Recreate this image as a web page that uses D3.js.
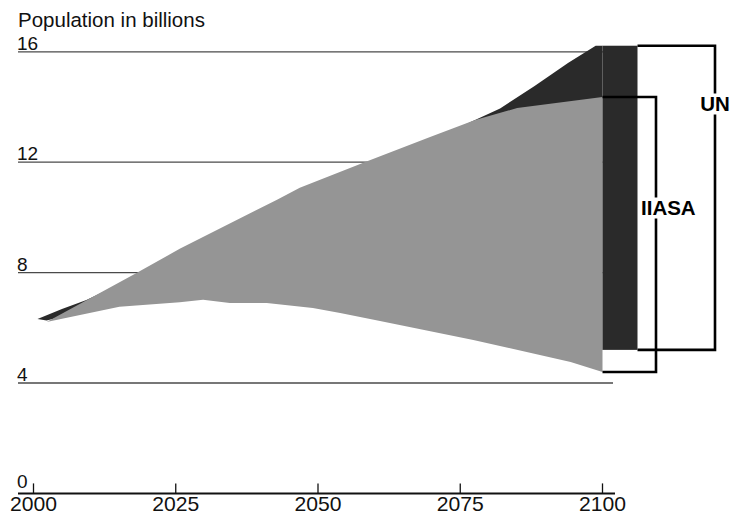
<!DOCTYPE html>
<html>
<head>
<meta charset="utf-8">
<script src="https://cdn.jsdelivr.net/npm/d3@7"></script>
<style>
  html, body { margin: 0; padding: 0; background: #fff; }
  svg { display: block; }
  text { font-family: "Liberation Sans", Arial, Helvetica, sans-serif; }
</style>
</head>
<body>
<svg id="chart" width="739" height="514"></svg>
<script>
// ---- data ----
const yTicks = [0, 4, 8, 12, 16];
const xTicks = [2000, 2025, 2050, 2075, 2100];
const yTitle = "Population in billions";

// UN projection range [year, billions]
const unUpper = [[2000.7, 6.32], [2005, 6.68], [2009.3, 7.01], [2020, 8.05], [2030, 9.2], [2040, 10.2],
  [2050, 11.2], [2060, 12.0], [2070, 12.8], [2077.6, 13.53], [2082, 13.95], [2088, 14.75],
  [2094, 15.6], [2098.8, 16.22], [2100, 16.22]];
const unLower = [[2000.7, 6.32], [2002.3, 6.26], [2015, 6.9], [2030, 7.2], [2050, 7.0],
  [2075, 6.2], [2100, 5.2]];

// IIASA projection range
const iiasaUpper = [[2002.3, 6.21], [2018.1, 7.99], [2025.7, 8.86], [2042.8, 10.64], [2046.8, 11.07],
  [2058.3, 12.01], [2069.7, 12.91], [2077.6, 13.53], [2085, 13.96], [2100, 14.36]];
const iiasaLower = [[2002.3, 6.21], [2015.1, 6.76], [2025.7, 6.93], [2029.8, 7.02], [2034.5, 6.9],
  [2041, 6.9], [2049.1, 6.72], [2053.9, 6.54], [2060.9, 6.25], [2077.3, 5.56], [2094.4, 4.76],
  [2100, 4.4]];

// 2100 ranges shown as brackets
const un2100 = [5.2, 16.22];
const iiasa2100 = [4.4, 14.36];

// ---- drawing ----
const svg = d3.select("#chart");
const x = d3.scaleLinear().domain([2000, 2100]).range([33.5, 602.5]);
const y = d3.scaleLinear().domain([0, 16]).range([493.4, 51.8]);

const DARK = "#2a2a2a", GRAY = "#959595";

// title
svg.append("text").attr("x", 18).attr("y", 27).attr("font-size", 20.5).attr("fill", "#111").text(yTitle);

// gridlines + y labels
yTicks.forEach(t => {
  if (t > 0) {
    svg.append("line").attr("x1", 18).attr("x2", 613).attr("y1", y(t)).attr("y2", y(t))
      .attr("stroke", "#4a4a4a").attr("stroke-width", 1.3);
  }
  svg.append("text").attr("x", 17).attr("y", y(t) - (t === 0 ? 5 : 2)).attr("font-size", 19)
    .attr("fill", "#111").text(t);
});

// areas
function bandPath(upper, lower) {
  const pts = upper.map(d => [x(d[0]), y(d[1])])
    .concat(lower.slice().reverse().map(d => [x(d[0]), y(d[1])]));
  return d3.line()(pts) + "Z";
}
svg.append("path").attr("d", bandPath(unUpper, unLower)).attr("fill", DARK);

// UN 2100 bar
const x2100 = x(2100);
const barW = 35;
svg.append("rect").attr("x", x2100).attr("width", barW)
  .attr("y", y(un2100[1])).attr("height", y(un2100[0]) - y(un2100[1])).attr("fill", DARK);

svg.append("path").attr("d", bandPath(iiasaUpper, iiasaLower)).attr("fill", GRAY);

// x axis
const axisY = y(0);
svg.append("line").attr("x1", 18).attr("x2", 615).attr("y1", axisY).attr("y2", axisY)
  .attr("stroke", "#111").attr("stroke-width", 2);
xTicks.forEach(t => {
  svg.append("line").attr("x1", x(t)).attr("x2", x(t)).attr("y1", axisY).attr("y2", axisY - 10)
    .attr("stroke", "#111").attr("stroke-width", 1.3);
  svg.append("text").attr("x", x(t)).attr("y", 511).attr("text-anchor", "middle")
    .attr("font-size", 21).attr("textLength", 47).attr("lengthAdjust", "spacingAndGlyphs")
    .attr("fill", "#111").text(t);
});

// brackets
function bracket(x0, x1, range, label, lx, anchor) {
  const yt = y(range[1]), yb = y(range[0]);
  svg.append("path").attr("d", `M${x0},${yt}H${x1}V${yb}H${x0}`)
    .attr("fill", "none").attr("stroke", "#000").attr("stroke-width", 2.6);
  const ly = (yt + yb) / 2;
  const g = svg.append("g");
  const bg = g.append("rect").attr("fill", "#fff");
  const txt = g.append("text").attr("x", lx).attr("y", ly).attr("text-anchor", anchor)
    .attr("font-size", 20.5).attr("font-weight", "bold").attr("fill", "#000").text(label);
  return {txt, bg};
}
function labelBg(o, yc) {
  o.txt.attr("y", yc + 7.5);
  const b = o.txt.node().getBBox();
  o.bg.attr("x", b.x - 1).attr("y", b.y + 2).attr("width", b.width + 2).attr("height", b.height - 2);
}
const unB = bracket(x2100 + barW, 715, un2100, "UN", 715, "middle");
labelBg(unB, 103);
const iiB = bracket(x2100, 656, iiasa2100, "IIASA", 641, "start");
labelBg(iiB, 207);
</script>
</body>
</html>
